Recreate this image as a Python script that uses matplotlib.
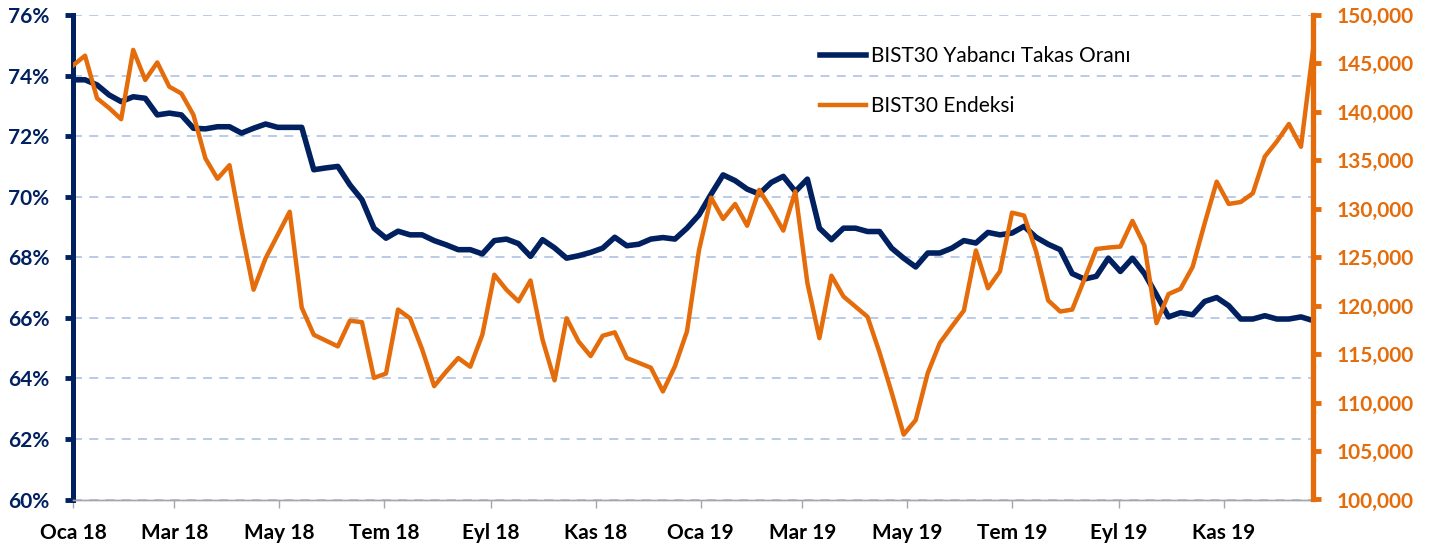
import matplotlib
matplotlib.use('Agg')
import matplotlib.pyplot as plt
import pandas as pd

# weekly data, Jan 2018 - Dec 2019
start_date = '2018-01-05'

takas = [73.86, 73.86, 73.69, 73.36, 73.14, 73.30, 73.25, 72.70, 72.76, 72.70,
         72.26, 72.24, 72.31, 72.31, 72.10, 72.26, 72.40, 72.29, 72.29, 72.29,
         70.89, 70.95, 71.00, 70.39, 69.90, 68.96, 68.63, 68.86, 68.74, 68.74,
         68.55, 68.41, 68.25, 68.25, 68.11, 68.55, 68.60, 68.45, 68.03, 68.58,
         68.31, 67.97, 68.05, 68.16, 68.30, 68.66, 68.38, 68.43, 68.60, 68.65,
         68.60, 68.96, 69.40, 70.08, 70.72, 70.53, 70.25, 70.09, 70.47, 70.67,
         70.17, 70.58, 68.96, 68.58, 68.96, 68.96, 68.85, 68.85, 68.30, 67.97,
         67.68, 68.14, 68.14, 68.30, 68.55, 68.47, 68.82, 68.74, 68.80, 69.02,
         68.66, 68.43, 68.25, 67.46, 67.28, 67.37, 67.97, 67.53, 67.97, 67.46,
         66.76, 66.03, 66.17, 66.10, 66.54, 66.67, 66.40, 65.96, 65.96, 66.07,
         65.96, 65.96, 66.03, 65.91]

endeks = [144800, 145800, 141400, 140400, 139250, 146400, 143300, 145100, 142600, 141900,
          139700, 135200, 133100, 134500, 127800, 121650, 124900, 127300, 129700, 119800,
          117000, 116400, 115800, 118450, 118300, 112550, 113000, 119600, 118700, 115500,
          111700, 113200, 114600, 113700, 117000, 123200, 121650, 120450, 122600, 116500,
          112300, 118700, 116300, 114800, 116900, 117250, 114600, 114100, 113600, 111150,
          113750, 117350, 125750, 131150, 128950, 130500, 128250, 131950, 129950, 127750,
          131800, 122350, 116650, 123100, 120950, 119900, 118850, 115150, 111050, 106700,
          108200, 113050, 116150, 117850, 119500, 125700, 121800, 123550, 129600, 129300,
          125600, 120550, 119400, 119600, 122700, 125850, 126000, 126100, 128750, 126200,
          118200, 121200, 121750, 124000, 128500, 132800, 130500, 130700, 131600, 135400,
          136950, 138750, 136400, 146400]

tick_labels = ['Oca 18', 'Mar 18', 'May 18', 'Tem 18', 'Eyl 18', 'Kas 18',
               'Oca 19', 'Mar 19', 'May 19', 'Tem 19', 'Eyl 19', 'Kas 19']
left_ticks = [60, 62, 64, 66, 68, 70, 72, 74, 76]
right_ticks = [100000, 105000, 110000, 115000, 120000, 125000,
               130000, 135000, 140000, 145000, 150000]

navy = '#002060'
orange = '#E46C0A'
fonts = ['Lato', 'DejaVu Sans']
plt.rcParams['font.family'] = fonts

dates = pd.date_range(start_date, periods=len(takas), freq='7D')
tick_dates = pd.date_range(start_date, periods=len(tick_labels), freq=pd.DateOffset(months=2))

fig = plt.figure(figsize=(14.45, 5.5), dpi=100)
ax1 = fig.add_axes([73/1445, 1-499.5/550, 1240/1445, 484.5/550])
ax2 = ax1.twinx()

l1, = ax1.plot(dates, takas, color=navy, lw=4.0, solid_joinstyle='round',
               label='BIST30 Yabancı Takas Oranı', zorder=3)
l2, = ax2.plot(dates, endeks, color=orange, lw=3.2, solid_joinstyle='round',
               label='BIST30 Endeksi', zorder=3)

ax1.set_xlim(dates[0], dates[-1])
ax1.set_ylim(60, 76)
ax2.set_ylim(100000, 150000)

ax1.set_yticks(left_ticks)
ax1.set_yticklabels(['%d%%' % t for t in left_ticks])
ax2.set_yticks(right_ticks)
ax2.set_yticklabels(['{:,}'.format(t) for t in right_ticks])
ax1.set_xticks(tick_dates)
ax1.set_xticklabels(tick_labels)

ax1.grid(axis='y', color='#B4C7E7', ls=(0, (5, 4)), lw=1.3)
ax1.set_axisbelow(True)

for ax in (ax1, ax2):
    ax.spines['top'].set_visible(False)
    ax.spines['bottom'].set_color('#A6A6A6')
    ax.spines['bottom'].set_linewidth(1.0)
ax1.spines['right'].set_visible(False)
ax2.spines['left'].set_visible(False)
ax1.spines['left'].set_color(navy)
ax1.spines['left'].set_linewidth(3.6)
ax2.spines['right'].set_color(orange)
ax2.spines['right'].set_linewidth(3.8)
ax2.spines['right'].set_zorder(5)

ax1.tick_params(axis='y', colors=navy, length=6, width=3.5, pad=11,
                labelsize=15)
ax2.tick_params(axis='y', colors=orange, length=6, width=3.5, pad=11,
                labelsize=15)
ax1.tick_params(axis='x', colors='#A6A6A6', length=6, width=1.0, pad=11,
                labelsize=15, labelcolor='black')
for lab in ax1.get_xticklabels() + ax1.get_yticklabels() + ax2.get_yticklabels():
    lab.set_fontweight('bold')

ax2.legend(handles=[l1, l2], loc='upper left', bbox_to_anchor=(820/1445, 1-46/550),
           bbox_transform=fig.transFigure, frameon=False, fontsize=15,
           handlelength=2.2, handletextpad=0.25, labelspacing=1.45,
           borderpad=0, borderaxespad=0)

plt.savefig('out.png', dpi=100)
plt.close()
